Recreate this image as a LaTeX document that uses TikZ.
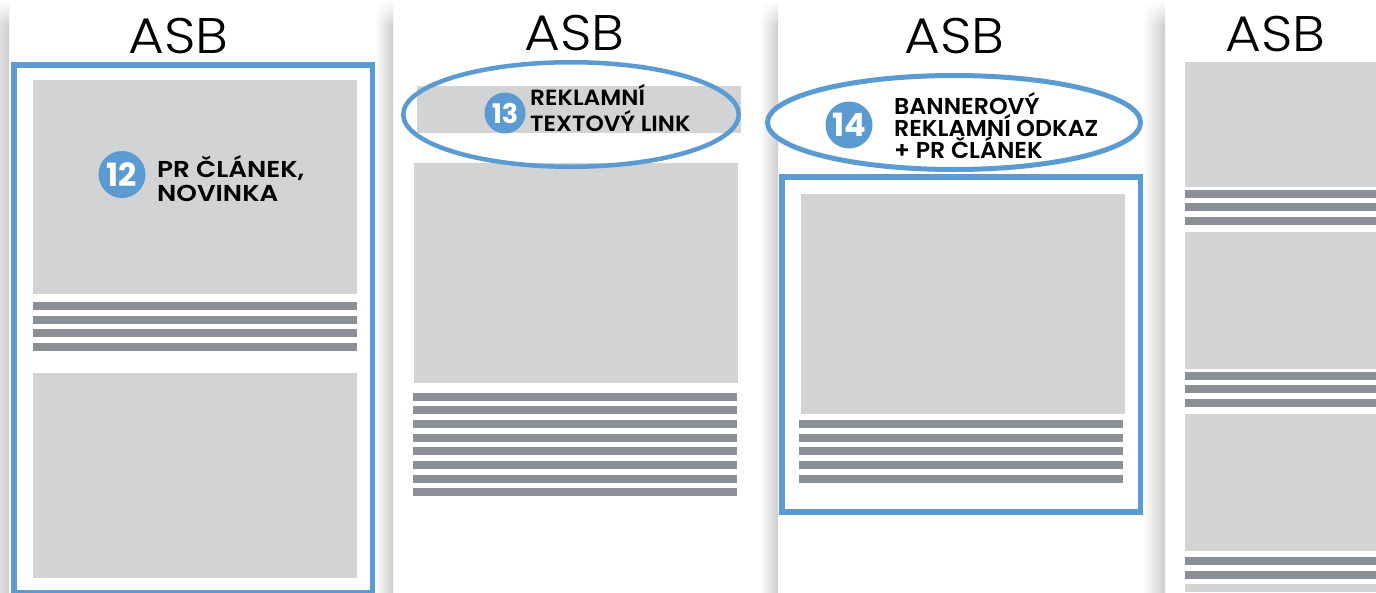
\documentclass[tikz,border=0pt]{standalone}
\usepackage{fontspec}
\setmainfont{Poppins}
\newfontfamily\asbfont[FakeStretch=1.1]{Poppins Light}
\newfontfamily\labfont{Poppins Bold}
\newfontfamily\labwide[FakeStretch=1.14]{Poppins SemiBold}
\newfontfamily\labmid[FakeStretch=1.06]{Poppins SemiBold}
\newfontfamily\labnarrow[FakeStretch=1.03]{Poppins SemiBold}
\usetikzlibrary{shapes.geometric,fadings}
\definecolor{blockgrey}{HTML}{D1D3D4}
\definecolor{linegrey}{HTML}{8B8F96}
\definecolor{framebl}{HTML}{5B9BD1}
\definecolor{shadowgrey}{HTML}{CDCDCD}
\tikzset{
  logotext/.style={font=\asbfont\fontsize{50}{50}\selectfont,inner sep=0pt,anchor=base west,text=black},
  labeltextw/.style={font=\labwide\fontsize{23}{24}\selectfont,inner sep=0pt,anchor=base west,text=black},
  labeltextm/.style={font=\labmid\fontsize{22}{24}\selectfont,inner sep=0pt,anchor=base west,text=black},
  labeltextn/.style={font=\labnarrow\fontsize{23}{24}\selectfont,inner sep=0pt,anchor=base west,text=black},
  badgenode/.style={circle,fill=framebl,text=white,inner sep=0pt,font=\labfont\fontsize{32}{32}\selectfont},
  block/.style={fill=blockgrey},
  rule/.style={fill=linegrey},
  frame/.style={draw=framebl,line width=5.5pt},
  oval/.style={ellipse,draw=framebl,inner sep=0pt,outer sep=0pt},
}
\newcommand{\shadowstrip}[2]{%
  \shade[left color=white,right color=shadowgrey] (#1,0) rectangle (#2,592);
  \fill[white,path fading=south] (#1-1,0) rectangle (#2+1,26);
}
\begin{document}
\begin{tikzpicture}[x=1pt,y=-1pt]
\useasboundingbox (0,0) rectangle (1376,592);
\fill[white] (0,0) rectangle (1376,592);
% page shadows
\shade[left color=white!70!shadowgrey,right color=shadowgrey] (-8,0) rectangle (9,592);
\fill[white,path fading=south] (-1,0) rectangle (10,26);
\shadowstrip{375}{393}
\shadowstrip{760}{778}
\shadowstrip{1143}{1165}

% page 1
\draw[frame] (13.75,64.75) rectangle (372.25,593);
\fill[block] (33,80) rectangle (357,294);
\foreach \y in {302,316,329,343} \fill[rule] (33,\y) rectangle (357,\y+8);
\fill[block] (33,373) rectangle (357,578);
\node[logotext] (asb1) at (128,53) {ASB};
\node[badgenode,minimum size=47pt] (b12) at (122,174.5) {12};
\node[labeltextw] (t12a) at (157,177) {PR ČLÁNEK,};
\node[labeltextw] (t12b) at (157,201) {NOVINKA};

% page 2
\fill[block] (417,86) rectangle (741,133);
\fill[block] (414,163) rectangle (738,383);
\foreach \y in {393,406,420,434,447,461,475,488} \fill[rule] (413,\y) rectangle (737,\y+8);
\node[logotext] (asb2) at (524,50) {ASB};
\node[oval,line width=4.5pt,minimum width=335.5pt,minimum height=104.5pt] (e13) at (571,114.5) {};
\node[badgenode,minimum size=41pt,font=\labfont\fontsize{27}{27}\selectfont] (b13) at (505,113) {13};
\node[labeltextm] (t13a) at (530,105) {REKLAMNÍ};
\node[labeltextm] (t13b) at (530,131) {TEXTOVÝ LINK};

% page 3
\node[oval,fill=white,line width=5pt,minimum width=373pt,minimum height=94pt] (e14) at (954,122.5) {};
\draw[frame] (781.75,176.75) rectangle (1140.25,512);
\fill[block] (801,194) rectangle (1125,414);
\foreach \y in {420,434,447,461,475} \fill[rule] (799,\y) rectangle (1123,\y+8);
\node[logotext] (asb3) at (904,53) {ASB};
\node[badgenode,minimum size=47pt] (b14) at (849,125) {14};
\node[labeltextn] (t14a) at (894,114) {BANNEROVÝ};
\node[labeltextn] (t14b) at (894,136) {REKLAMNÍ ODKAZ};
\node[labeltextn] (t14c) at (894,158) {+ PR ČLÁNEK};

% page 4
\node[logotext] (asb4) at (1225,51) {ASB};
\fill[block] (1185,62) rectangle (1376,187);
\foreach \y in {190,203,217} \fill[rule] (1185,\y) rectangle (1376,\y+8);
\fill[block] (1185,232) rectangle (1376,369);
\foreach \y in {372,385,399} \fill[rule] (1185,\y) rectangle (1376,\y+8);
\fill[block] (1185,414) rectangle (1376,551);
\foreach \y in {557,571} \fill[rule] (1185,\y) rectangle (1376,\y+8);
\fill[block] (1185,584) rectangle (1376,592);
\end{tikzpicture}
\end{document}
